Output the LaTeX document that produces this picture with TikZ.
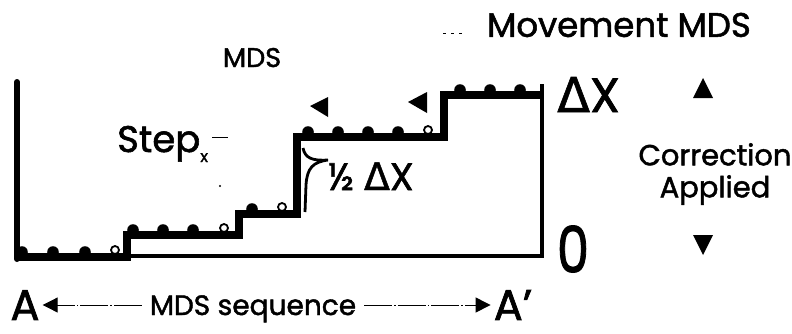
\documentclass[tikz,border=0pt]{standalone}
\usepackage{fontspec}
\setmainfont{Poppins}[FakeBold=1.6]
\newfontfamily\grk{DejaVu Sans}[FakeBold=1.2]
\usetikzlibrary{arrows.meta}
\newcommand\fsz[1]{\fontsize{#1}{#1}\selectfont}

\begin{document}
\begin{tikzpicture}[x=1pt,y=-1pt,
  stepline/.style={line width=8pt, line join=miter, line cap=butt},
  outline/.style={line width=3.2pt},
  axisline/.style={line width=6pt, line cap=round},
  ring/.style={draw=black, fill=white, line width=1.8pt},
  lbl/.style={inner sep=0pt, anchor=center},
  seqline/.style={line width=1pt, dash pattern=on 28pt off 2pt on 1.5pt off 2pt,
    -{Triangle[length=15pt,width=15pt]}}]
\useasboundingbox (0,0) rectangle (792,333);

% axis and outline of the staircase region
\draw[axisline] (17,82) -- (17,259);
\draw[outline] (126,256) -- (542,256) -- (542,84);

% staircase of MDS positions
\draw[stepline] (17,257) -- (127,257) -- (127,235) -- (239,235) -- (239,214)
  -- (297,214) -- (297,137) -- (444,137) -- (444,95) -- (542,95);

% filled bumps on each level
\foreach \x in {22,53,85} \fill (\x,252) circle[radius=5.8];
\foreach \x in {133,163,193} \fill (\x,230) circle[radius=5.8];
\fill (252,209) circle[radius=5.8];
\foreach \x in {308,338,368,398} \fill (\x,132) circle[radius=5.8];
\foreach \x in {460,490,520} \fill (\x,90) circle[radius=5.8];

% open markers before each rise
\draw[ring] (115,250) circle[radius=4];
\draw[ring] (224,228) circle[radius=4];
\draw[ring] (282,207) circle[radius=4];
\draw[ring] (428,130) circle[radius=4];

% half-step brace
\draw[line width=2.8pt] (303,148) .. controls (305,158) and (312,161) .. (328,160)
  .. controls (313,162) and (307,168) .. (306,185) -- (305,212);

% left-pointing movement marks
\fill (310,106) -- (328,97) -- (328,117) -- cycle;
\fill (408,102) -- (427,92) -- (427,113) -- cycle;

% correction direction marks
\fill (703,78) -- (713,98) -- (693,98) -- cycle;
\fill (703,255) -- (713,235) -- (693,235) -- cycle;

% specks
\draw[line width=1pt] (212,137) -- (228,137);
\fill (220,186) circle[radius=1.2];
\draw[line width=0.8pt, dash pattern=on 3pt off 5pt] (443,33) -- (466,33);

% labels
\node[lbl] (mvt) at (619,25) {\fsz{34}Movement MDS};
\node[lbl, anchor=base] (mds) at (252,67) {\fsz{27}MDS};
\node[lbl, anchor=base west] (step) at (117,152) {\fsz{37}Step\raisebox{-10pt}{\fsz{16}x}};
\node[lbl, anchor=base west] (half) at (328,190) {\fsz{38}½ {\grk Δ}X};
\node[lbl, anchor=base west] (dx) at (557,112) {\fsz{48}{\grk Δ}X};
\node[lbl] (zero) at (573,249) {\fsz{64}\scalebox{0.8}[1]{0}};
\node[lbl, align=center, font=\fsz{29}] (corr) at (715,174) {Correction\\[3pt]Applied};

\node[lbl] (A) at (25,305) {\fsz{43}A};
\node[lbl, anchor=base] (seq) at (253,315) {\fsz{28}MDS sequence};
\node[lbl] (Ap) at (513,305) {\fsz{43}A'};

\draw[seqline, shorten <=8pt, shorten >=3pt] (seq.west |- A.east) -- (A.east);
\draw[seqline, shorten <=8pt, shorten >=3pt] (seq.east |- Ap.west) -- (Ap.west);
\end{tikzpicture}
\end{document}
